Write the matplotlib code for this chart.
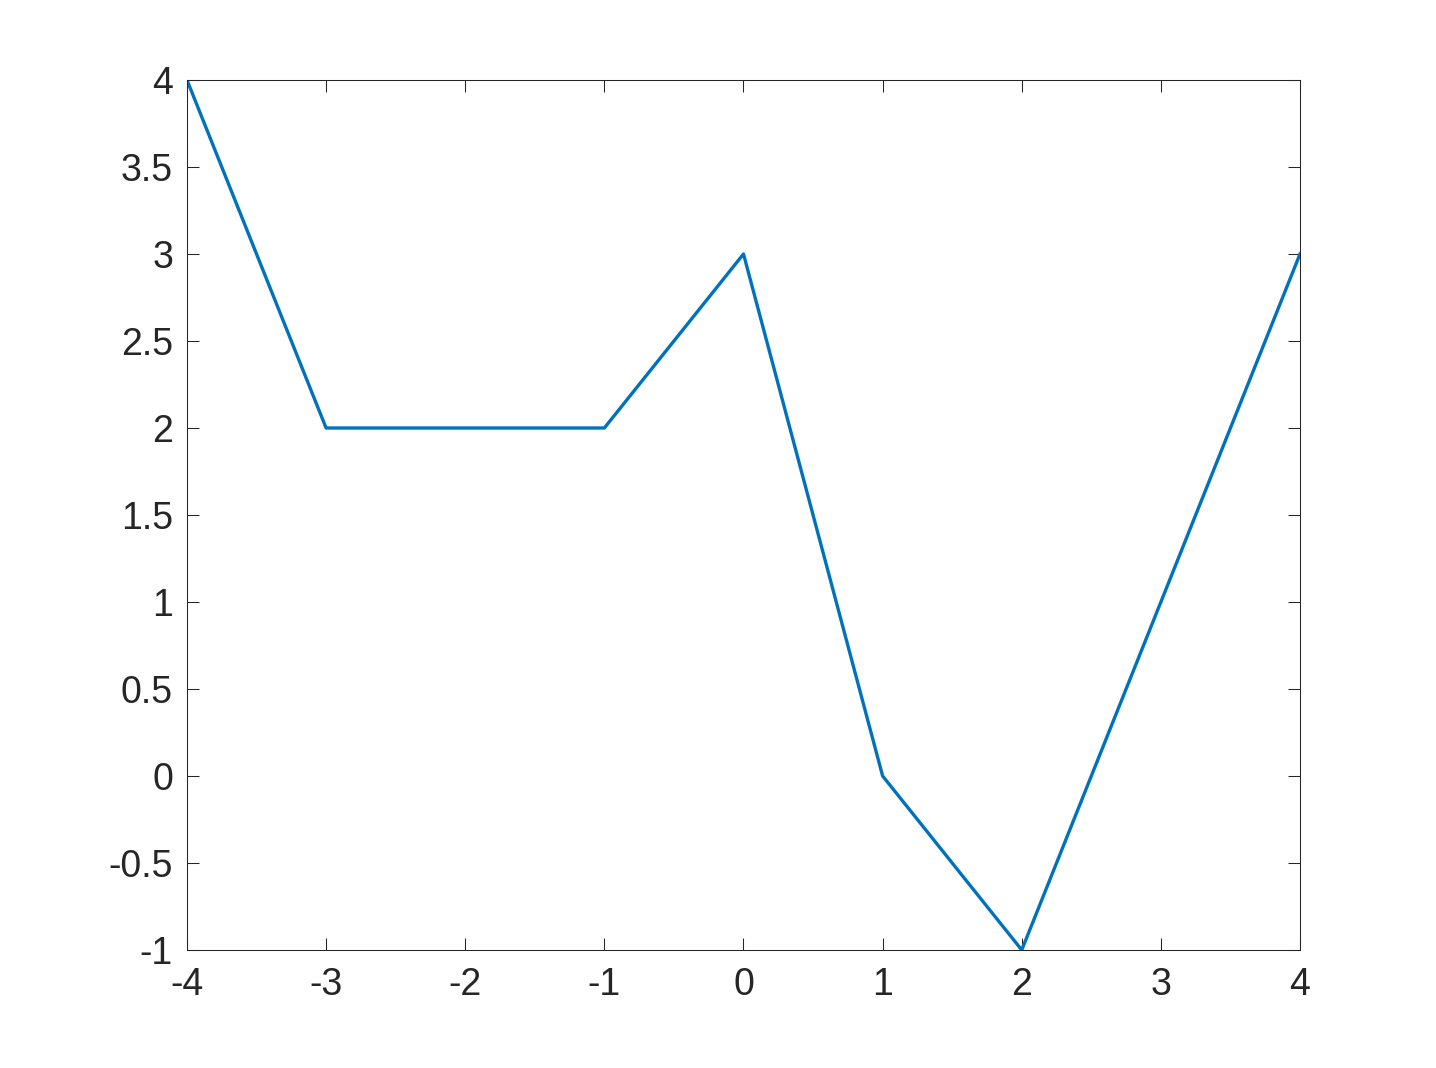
import matplotlib
matplotlib.use('Agg')
import matplotlib.pyplot as plt

# =============================================================================
# Data
# =============================================================================
x_vals = [-4, -3, -2, -1, 0, 1, 2, 3, 4]
y_vals = [4, 2, 2, 2, 3, 0, -1, 1, 3]
x_ticks = [-4, -3, -2, -1, 0, 1, 2, 3, 4]
y_ticks = [-1, -0.5, 0, 0.5, 1, 1.5, 2, 2.5, 3, 3.5, 4]
y_labels = ['-1', '-0.5', '0', '0.5', '1', '1.5', '2', '2.5', '3', '3.5', '4']
x_labels = ['-4', '-3', '-2', '-1', '0', '1', '2', '3', '4']

# =============================================================================
# Plot parameters
# =============================================================================
matplotlib.rcParams['font.family'] = ['Liberation Sans', 'DejaVu Sans']
text_col = '#262626'

fig = plt.figure(figsize=(14.36, 10.68), dpi=100)
ax = fig.add_axes([0.1302, 0.1105, 0.7751, 0.8146])
ax.plot(x_vals, y_vals, color='#0072BD', linewidth=2.4)

ax.set_xlim(-4, 4)
ax.set_ylim(-1, 4)
ax.set_xticks(x_ticks)
ax.set_xticklabels(x_labels)
ax.set_yticks(y_ticks)
ax.set_yticklabels(y_labels)
ax.tick_params(direction='in', length=8.6, width=0.75, colors=text_col,
	labelsize=27, top=True, right=True, pad=10)
ax.tick_params(axis='x', pad=12)
for sp in ax.spines.values():
	sp.set_color(text_col)
	sp.set_linewidth(0.75)

fig.savefig('out.png', dpi=100)
